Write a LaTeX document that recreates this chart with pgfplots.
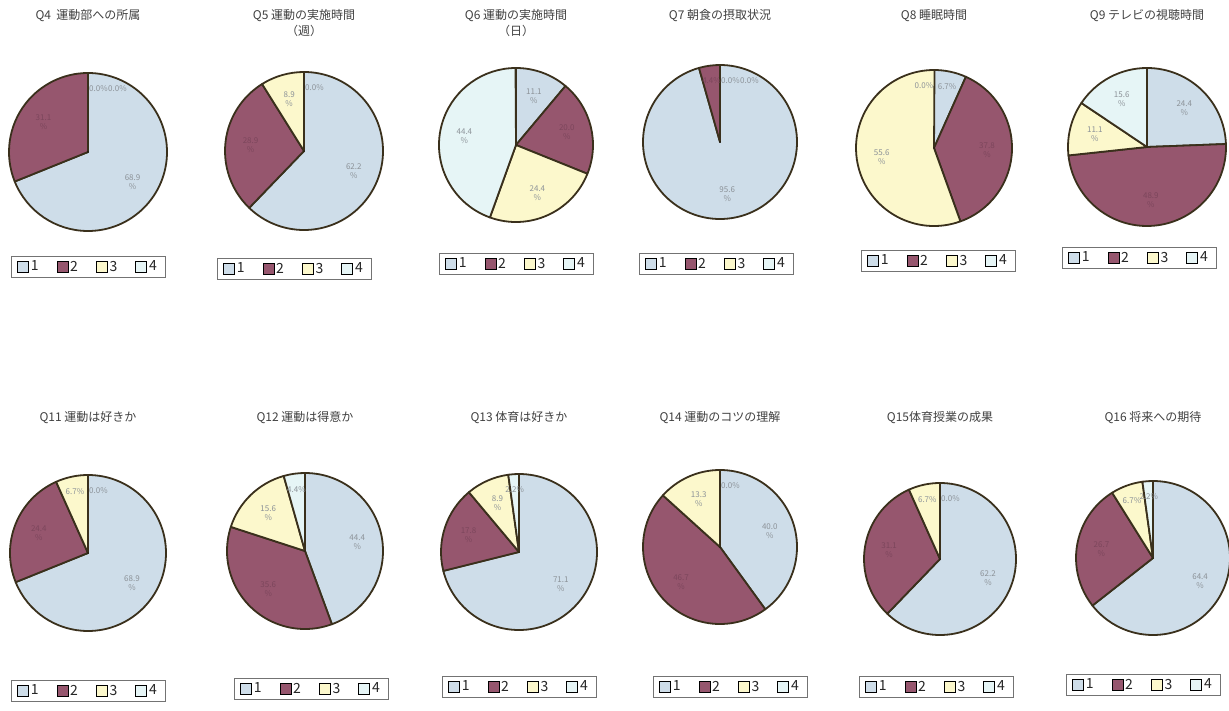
\documentclass[border=0pt]{standalone}
\usepackage{fontspec}
\setmainfont{Noto Sans CJK JP}
\usepackage{pgfplots}
\usepackage{pgfplotstable}
\pgfplotsset{compat=1.18}

\definecolor{pieA}{RGB}{206,221,233}
\definecolor{pieB}{RGB}{150,86,110}
\definecolor{pieC}{RGB}{252,248,204}
\definecolor{pieD}{RGB}{230,245,246}
\definecolor{pieEdge}{RGB}{58,48,28}
\definecolor{labA}{RGB}{140,146,152}
\definecolor{labB}{RGB}{124,70,92}

\newcommand\ttlfont{\fontsize{12}{16}\selectfont}
\newcommand\legfont{\fontsize{14}{15}\selectfont}
\newcommand\labfont{\fontsize{8}{9}\selectfont}

% share of answers (%) for choices 1..4
\pgfplotstableread{
c v
1 68.9
2 31.1
3 0.0
4 0.0
}\qfour
\pgfplotstableread{
c v
1 62.2
2 28.9
3 8.9
4 0.0
}\qfive
\pgfplotstableread{
c v
1 11.1
2 20.0
3 24.4
4 44.4
}\qsix
\pgfplotstableread{
c v
1 95.6
2 4.4
3 0.0
4 0.0
}\qseven
\pgfplotstableread{
c v
1 6.7
2 37.8
3 55.6
4 0.0
}\qeight
\pgfplotstableread{
c v
1 24.4
2 48.9
3 11.1
4 15.6
}\qnine
\pgfplotstableread{
c v
1 68.9
2 24.4
3 6.7
4 0.0
}\qeleven
\pgfplotstableread{
c v
1 44.4
2 35.6
3 15.6
4 4.4
}\qtwelve
\pgfplotstableread{
c v
1 71.1
2 17.8
3 8.9
4 2.2
}\qthirteen
\pgfplotstableread{
c v
1 40.0
2 46.7
3 13.3
4 0.0
}\qfourteen
\pgfplotstableread{
c v
1 62.2
2 31.1
3 6.7
4 0.0
}\qfifteen
\pgfplotstableread{
c v
1 64.4
2 26.7
3 6.7
4 2.2
}\qsixteen

\pgfplotsset{
  pie panel/.style={
    scale only axis, hide axis, clip=false,
    xmin=-1, xmax=1, ymin=-1, ymax=1,
    anchor=origin,
    title style={at={(0.5,1)}, anchor=north, align=center, font=\ttlfont, text=black!75},
    legend columns=4,
    legend style={at={(0.5,0)}, anchor=north, draw=black!55, line width=0.7pt,
      font=\legfont, text=black!85, inner xsep=6pt, inner ysep=2.5pt,
      /tikz/every even column/.append style={column sep=16pt}},
    legend image code/.code={
      \draw[#1, draw=black, line width=0.7pt] (0pt,-5.5pt) rectangle (11pt,5.5pt);
    },
  },
  % every row is one slice, drawn clockwise from 12 o'clock
  pie slices/.style={
    scatter, only marks, mark=*, mark size=0.01pt,
    mark options={draw=none, fill=none},
    forget plot,
    visualization depends on={\thisrow{c} \as \idx},
    visualization depends on={\thisrow{v} \as \val},
    visualization depends on={\thisrow{cum} \as \cum},
    scatter/@pre marker code/.code={%
      \pgfmathtruncatemacro\ii{round(\idx)}%
      \pgfmathsetmacro\vv{\val}%
      \pgfmathsetmacro\aS{90-3.6*(\cum-\val)}%
      \pgfmathsetmacro\aE{90-3.6*\cum}%
      \pgfmathsetmacro\aM{(\aS+\aE)/2}%
      \ifcase\ii\or\def\sc{pieA}\def\lc{labA}\or\def\sc{pieB}\def\lc{labB}%
        \or\def\sc{pieC}\def\lc{labA}\or\def\sc{pieD}\def\lc{labA}\fi
      \ifdim\vv pt>0.01pt
        \filldraw[fill=\sc, draw=pieEdge, line width=1.8pt, line join=round]
          (0pt,0pt) -- (\aS:\pieR) arc[start angle=\aS, end angle=\aE, radius=\pieR] -- cycle;
      \fi
      % small shares on one line near the rim, others on two lines
      \ifdim\vv pt<8pt \def\lr{0.8}\def\lbr{}\else\def\lr{0.68}\def\lbr{\\}\fi
      \def\lanc{center}\def\lxs{0pt}%
      \ifdim\vv pt<0.01pt
        \ifdim\firstv pt<8pt
          \def\lanc{east}\def\lxs{-1pt}%
        \else
          \def\lanc{west}\def\lxs{1pt}%
          \ifnum\ii=4 \ifdim\thirdv pt<0.01pt \def\lxs{20pt}\fi\fi
        \fi
      \fi
      \node[font=\labfont, text=\lc, align=center, inner sep=0pt, anchor=\lanc, xshift=\lxs]
        at (\aM:{\lr*\pieR})
        {\pgfmathprintnumber[fixed, fixed zerofill, precision=1, assume math mode=true]{\vv}\lbr\%};
    },
    scatter/@post marker code/.code={},
  },
}

% #1 centre x, #2 centre y (from top), #3 radius, #4 title, #5 table,
% #6 top of title, #7 top of legend, #8 legend shift sideways
\newcommand\piepanel[8]{%
  \pgfplotstablecreatecol[create col/expr accum={\pgfmathaccuma+\thisrow{v}}{0}]{cum}{#5}%
  \pgfplotstablegetelem{0}{v}\of{#5}\let\firstv\pgfplotsretval
  \pgfplotstablegetelem{2}{v}\of{#5}\let\thirdv\pgfplotsretval
  \pgfmathsetmacro\ypos{710-#2}%
  \pgfmathsetmacro\dia{2*#3}%
  \pgfmathsetmacro\ttlshift{#2-#3-#6}%
  \pgfmathsetmacro\legshift{#7-#2-#3}%
  \def\pieR{#3pt}%
  \begin{axis}[pie panel, at={(#1pt,\ypos pt)}, width=\dia pt, height=\dia pt,
      title={#4}, title style={yshift=\ttlshift pt},
      legend style={yshift=-\legshift pt, xshift=#8pt}]
    \addplot[pie slices] table[x expr=0, y expr=0] {#5};
    \addlegendimage{fill=pieA}
    \addlegendimage{fill=pieB}
    \addlegendimage{fill=pieC}
    \addlegendimage{fill=pieD}
    \legend{1,2,3,4}
  \end{axis}%
}

\begin{document}
\begin{tikzpicture}
\useasboundingbox (0pt,0pt) rectangle (1229pt,710pt);

\piepanel{88}{152}{79}{Q4\ \ 運動部への所属}{\qfour}{12}{256}{0}
\piepanel{304}{151}{79}{Q5 運動の実施時間\\（週）}{\qfive}{12}{258}{-10}
\piepanel{516}{145}{77}{Q6 運動の実施時間\\（日）}{\qsix}{12}{253}{0}
\piepanel{720}{142}{77}{Q7 朝食の摂取状況}{\qseven}{12}{253}{-4}
\piepanel{934}{148}{78}{Q8 睡眠時間}{\qeight}{12}{250}{4}
\piepanel{1147}{147}{79}{Q9 テレビの視聴時間}{\qnine}{12}{247}{-8}

\piepanel{88}{553}{78}{Q11 運動は好きか}{\qeleven}{414}{680}{0}
\piepanel{305}{551}{78}{Q12 運動は得意か}{\qtwelve}{414}{678}{6}
\piepanel{519}{552}{78}{Q13 体育は好きか}{\qthirteen}{414}{676}{0}
\piepanel{720}{547}{77}{Q14 運動のコツの理解}{\qfourteen}{414}{676}{10}
\piepanel{940}{559}{76}{Q15体育授業の成果}{\qfifteen}{414}{676}{-4}
\piepanel{1153}{558}{77}{Q16 将来への期待}{\qsixteen}{414}{674}{-10}
\end{tikzpicture}
\end{document}
